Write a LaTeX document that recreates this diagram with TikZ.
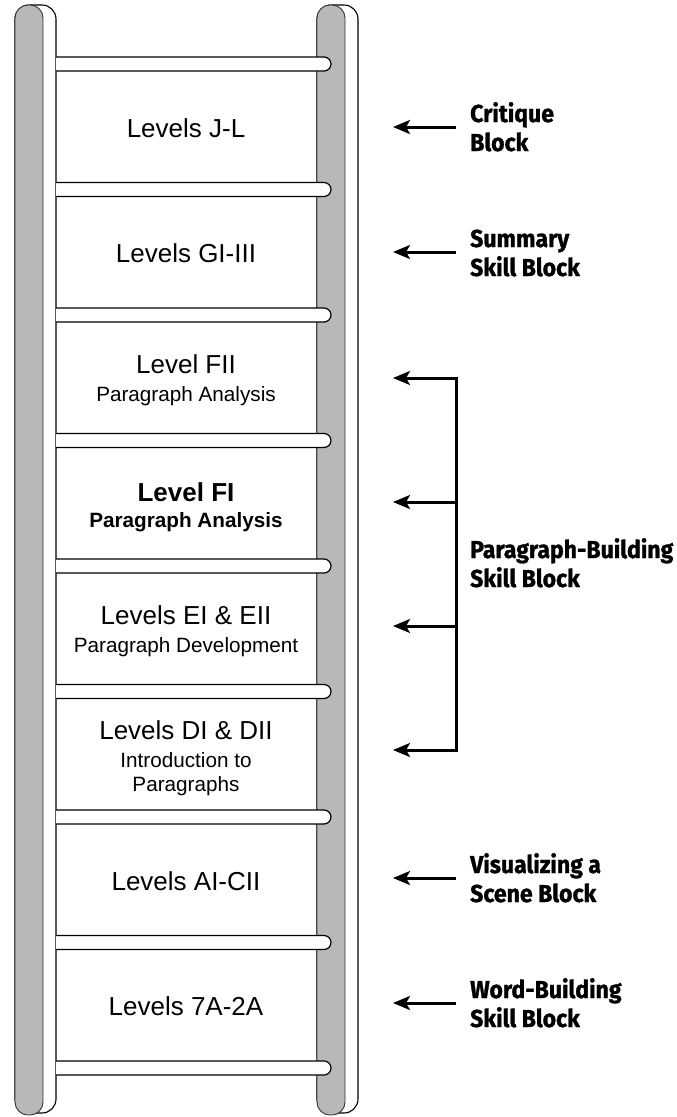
\documentclass[tikz,border=0pt]{standalone}
\usepackage{fontspec}
\setmainfont{Liberation Sans}
\newfontfamily\blkfont{Fira Sans}[BoldFeatures={FakeStretch=0.94,FakeBold=1.2}]
\usetikzlibrary{arrows.meta}
\tikzset{
  railside/.style={draw=black, line width=1.1pt, fill=white, rounded corners=14pt},
  railface/.style={draw=black!80, line width=0.9pt, fill=black!28, rounded corners=13pt},
  rungbar/.style={draw=black, line width=1.2pt, fill=white, rounded corners=7pt},
  lvl/.style={anchor=base, inner sep=0pt, font=\fontsize{26}{30}\selectfont},
  sublvl/.style={anchor=base, inner sep=0pt, font=\fontsize{20.7}{24}\selectfont},
  blocklbl/.style={anchor=base west, inner sep=0pt, align=left, font=\blkfont\bfseries\fontsize{24.5}{29}\selectfont},
  ptr/.style={line width=3pt, -{Stealth[length=17pt,width=14pt,inset=4pt]}},
  brk/.style={line width=3pt}
}
\begin{document}
\begin{tikzpicture}[x=1pt,y=-1pt]
\path[use as bounding box] (0,0) rectangle (677,1117);
% rails
\path[railside] (15,5) rectangle (56,1113);
\path[railface] (15,5) rectangle (43,1115);
\path[railside] (317,5) rectangle (358,1113);
\path[railface] (317,5) rectangle (345,1115);
% rungs
\foreach \i in {0,...,8}{
  \pgfmathsetmacro{\c}{64+125.5*\i}
  \fill[white] (56,\c-7) rectangle (325,\c+7);
  \draw[rungbar] (56,\c-7) -- (331,\c-7) -- (331,\c+7) -- (56,\c+7);
}
% level labels
\node[lvl] (jl) at (186,137) {Levels J-L};
\node[lvl] (gi) at (186,262) {Levels GI-III};
\node[lvl] (f2) at (186,373) {Level FII};
\node[sublvl] (f2s) at (186,401) {Paragraph Analysis};
\node[lvl, font=\fontsize{26}{30}\selectfont\bfseries] (f1) at (186,501) {Level FI};
\node[sublvl, font=\fontsize{20.7}{24}\selectfont\bfseries] (f1s) at (186,527) {Paragraph Analysis};
\node[lvl] (e) at (186,624) {Levels EI \& EII};
\node[sublvl] (es) at (186,652) {Paragraph Development};
\node[lvl] (d) at (186,739) {Levels DI \& DII};
\node[sublvl] (ds1) at (186,767) {Introduction to};
\node[sublvl] (ds2) at (186,791) {Paragraphs};
\node[lvl] (ac) at (186,890) {Levels AI-CII};
\node[lvl] (sa) at (186,1015) {Levels 7A-2A};
% block labels (anchor = baseline of last line)
\node[blocklbl] (crit) at (470,151) {Critique\\Block};
\node[blocklbl] (summ) at (470,276) {Summary\\Skill Block};
\node[blocklbl] (para) at (470,587) {Paragraph-Building\\Skill Block};
\node[blocklbl] (vis) at (470,902) {Visualizing a\\Scene Block};
\node[blocklbl] (word) at (470,1027) {Word-Building\\Skill Block};
% arrows
\coordinate (t1) at (456,127); \coordinate (h1) at (393,127);
\coordinate (t2) at (456,252); \coordinate (h2) at (393,252);
\coordinate (t3) at (456,378); \coordinate (h3) at (393,378);
\coordinate (t4) at (456,502); \coordinate (h4) at (393,502);
\coordinate (t5) at (456,626); \coordinate (h5) at (393,626);
\coordinate (t6) at (456,750); \coordinate (h6) at (393,750);
\coordinate (t7) at (456,878); \coordinate (h7) at (393,878);
\coordinate (t8) at (456,1003); \coordinate (h8) at (393,1003);
\draw[ptr] (t1) -- (h1);
\draw[ptr] (t2) -- (h2);
\draw[brk] ([yshift=1.5pt]t3) -- ([yshift=-1.5pt]t6);
\draw[ptr] ([xshift=1.5pt]t3) -- (h3);
\draw[ptr] (t4) -- (h4);
\draw[ptr] (t5) -- (h5);
\draw[ptr] ([xshift=1.5pt]t6) -- (h6);
\draw[ptr] (t7) -- (h7);
\draw[ptr] (t8) -- (h8);
\end{tikzpicture}
\end{document}
